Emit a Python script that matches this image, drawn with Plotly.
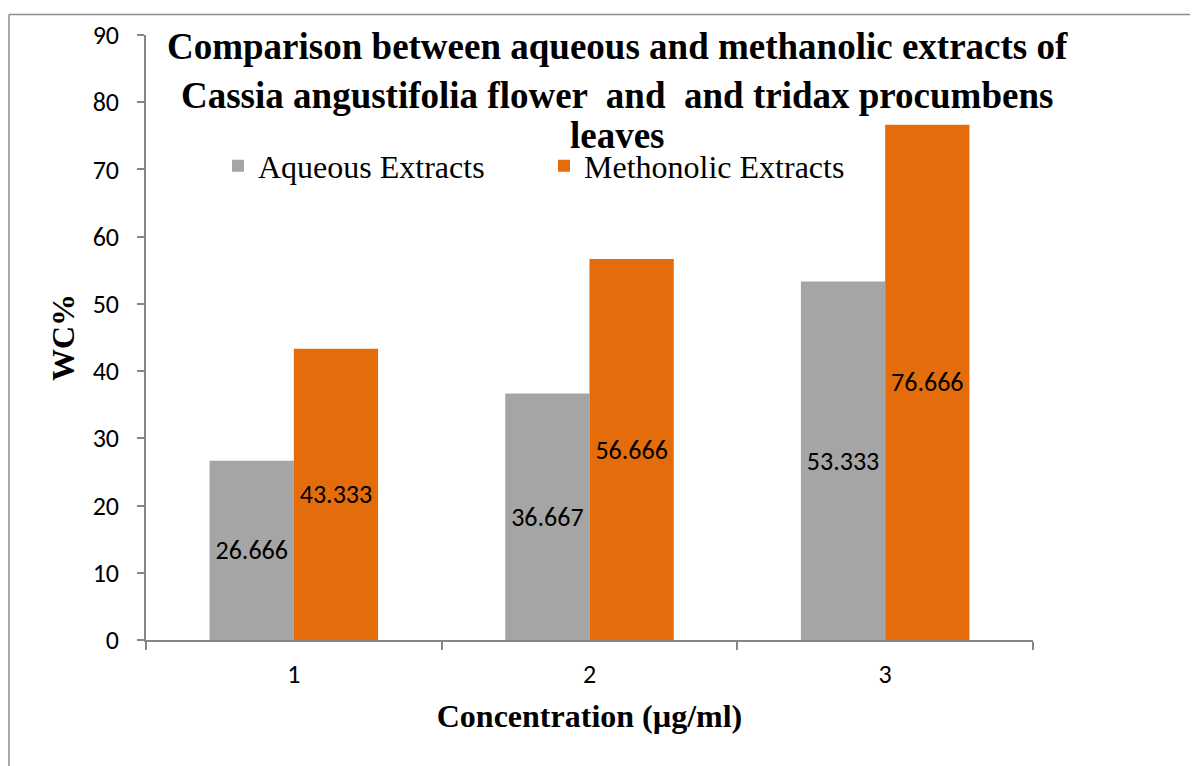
import plotly.graph_objects as go

categories = ["1", "2", "3"]
aqueous = [26.666, 36.667, 53.333]
methanolic = [43.333, 56.666, 76.666]
aqueous_labels = ["26.666", "36.667", "53.333"]
methanolic_labels = ["43.333", "56.666", "76.666"]
y_ticks = [0, 10, 20, 30, 40, 50, 60, 70, 80, 90]
title_lines = [
    "Comparison between aqueous and methanolic extracts of",
    "Cassia angustifolia flower  and  and tridax procumbens",
    "leaves",
]

# page offset (body margin) of the rendered div
OFF = 8
W, H = 1198 - OFF, 766 - OFF
L, R, T, B = 146, 1033, 35, 640  # plot area in screen pixels

def px_x(p):
    return (p - L) / (R - L)

def px_y(p):
    return (B - p) / (B - T)

sans = "Carlito, Lato, Liberation Sans, sans-serif"
serif = "Liberation Serif, Times New Roman, serif"
label_font = dict(family=sans, size=26, color="black")
tick_font = dict(family=sans, size=26, color="black")

fig = go.Figure()
fig.add_trace(go.Bar(
    x=categories, y=aqueous, name="Aqueous Extracts",
    marker=dict(color="#A5A5A5", line=dict(width=0)),
    text=aqueous_labels, textposition="inside", insidetextanchor="middle",
    textfont=label_font, textangle=0,
))
fig.add_trace(go.Bar(
    x=categories, y=methanolic, name="Methonolic Extracts",
    marker=dict(color="#E46C0A", line=dict(width=0)),
    text=methanolic_labels, textposition="inside", insidetextanchor="middle",
    textfont=label_font, textangle=0,
))

title_y = [47, 95, 135]
annotations = [
    dict(text="<b>%s</b>" % line, x=px_x(617), y=px_y(yy), xref="paper", yref="paper",
         xanchor="center", yanchor="middle", showarrow=False,
         font=dict(family=serif, size=37, color="black"))
    for line, yy in zip(title_lines, title_y)
]

fig.update_layout(
    width=W, height=H,
    margin=dict(l=L - OFF, r=W - (R - OFF), t=T - OFF, b=H - (B - OFF), autoexpand=False),
    paper_bgcolor="white", plot_bgcolor="white",
    barmode="group", bargap=0.43, bargroupgap=0,
    uniformtext=dict(mode="show", minsize=10),
    showlegend=True,
    legend=dict(
        orientation="h", x=px_x(218), xanchor="left", y=px_y(166), yanchor="middle",
        font=dict(family=serif, size=32, color="black"),
        bgcolor="rgba(0,0,0,0)", itemwidth=30, entrywidth=281,
    ),
    xaxis=dict(
        type="category", showline=True, linecolor="#868686", linewidth=1.5,
        ticks="outside", tickson="boundaries", ticklen=8, tickcolor="#868686", tickwidth=1.5,
        tickfont=tick_font, showgrid=False, zeroline=False,
        ticklabelstandoff=10,
        title=dict(text="<b>Concentration (µg/ml)</b>",
                   font=dict(family=serif, size=32, color="black"),
                   standoff=16),
    ),
    yaxis=dict(
        range=[0, 90], tickvals=y_ticks, showline=True, linecolor="#868686", linewidth=1.5,
        ticks="outside", ticklen=7, tickcolor="#868686", tickwidth=1.5,
        tickfont=tick_font, showgrid=False, zeroline=False,
        ticklabelstandoff=13,
        title=dict(text="<b>WC%</b>",
                   font=dict(family=serif, size=32, color="black"),
                   standoff=8),
    ),
    annotations=annotations,
    shapes=[
        dict(type="line", xref="paper", yref="paper", x0=px_x(9), x1=px_x(1210),
             y0=px_y(14.5), y1=px_y(14.5), line=dict(color="#8C8C8C", width=1.5)),
        dict(type="line", xref="paper", yref="paper", x0=px_x(9), x1=px_x(9),
             y0=px_y(14.5), y1=px_y(780), line=dict(color="#8C8C8C", width=1.5)),
    ],
)

fig.write_html("out.html")
